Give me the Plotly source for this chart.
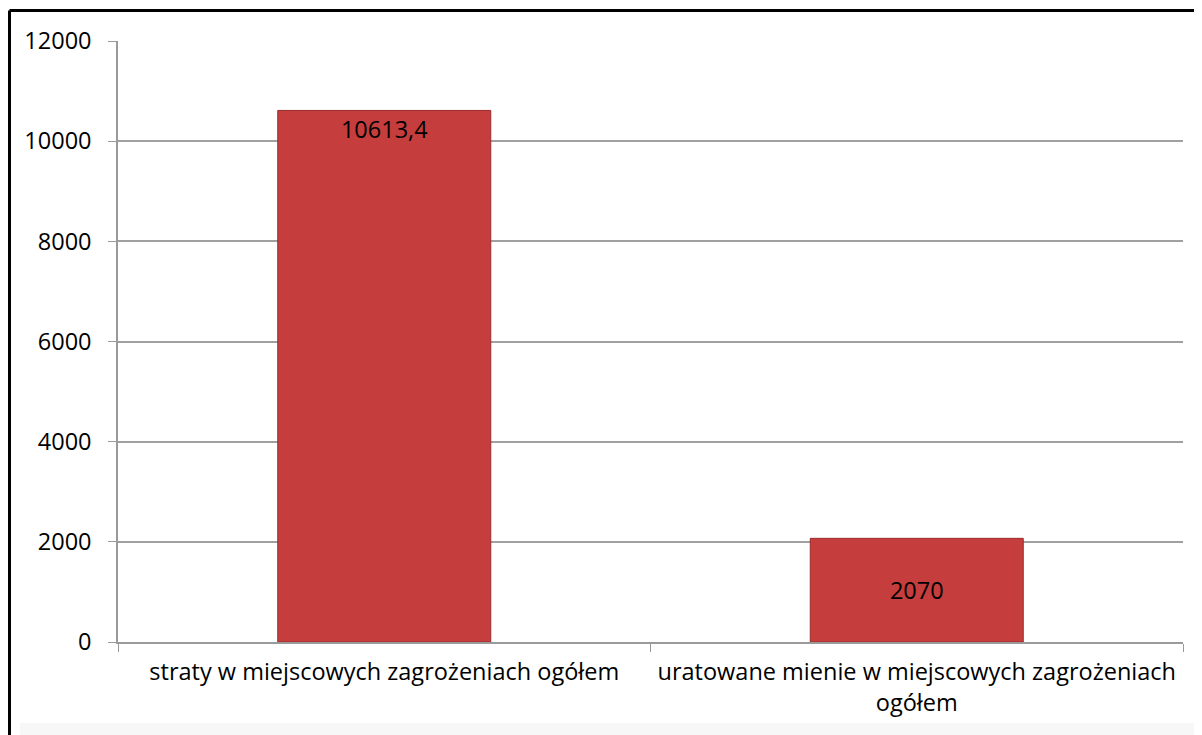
import plotly.graph_objects as go

categories = ["straty w miejscowych zagrożeniach ogółem",
              "uratowane mienie w miejscowych zagrożeniach<br>ogółem"]
values = [10613.4, 2070]
value_labels = ["10613,4", "2070"]
label_anchor = ["end", "middle"]

y_ticks = [0, 2000, 4000, 6000, 8000, 10000, 12000]

FONT = "Open Sans"
FS = 23.5

# page body has an 8px margin; figure is sized to fill the rest of the window
W, H = 1194, 727
ML, MR, MT, MB = 110, 19, 33, 93
PW, PH = W - ML - MR, H - MT - MB


def px_x(x):
    return (x - ML) / PW


def px_y(y):
    return (H - MB - y) / PH


fig = go.Figure()
for cat, v, lab, anc in zip(categories, values, value_labels, label_anchor):
    fig.add_trace(go.Bar(
        x=[cat], y=[v], text=[lab],
        textposition="inside", insidetextanchor=anc,
        textfont=dict(family=FONT, size=FS, color="#000000"),
        marker=dict(color="#c53d3c", line=dict(color="#9a2c2b", width=1)),
        width=0.4, showlegend=False, hoverinfo="x+y",
    ))

fig.update_layout(
    width=W, height=H,
    margin=dict(l=ML, r=MR, t=MT, b=MB),
    paper_bgcolor="white", plot_bgcolor="white",
    barmode="overlay",
    font=dict(family=FONT, size=FS, color="#000000"),
)
fig.update_xaxes(
    categoryorder="array", categoryarray=categories,
    showline=True, linecolor="#9a9a9a", linewidth=1.5,
    ticks="outside", tickson="boundaries", ticklen=8, tickcolor="#9a9a9a",
    ticklabelstandoff=8,
    showgrid=False, tickfont=dict(family=FONT, size=FS, color="#000000"),
)
fig.update_yaxes(
    range=[0, 12000], tickvals=y_ticks, ticktext=[str(t) for t in y_ticks],
    showline=True, linecolor="#9a9a9a", linewidth=1.5,
    ticks="outside", ticklen=8, tickcolor="#9a9a9a",
    ticklabelstandoff=12,
    showgrid=True, gridcolor="#a0a0a0", gridwidth=1.5,
    zeroline=False, tickfont=dict(family=FONT, size=FS, color="#000000"),
)

# faint band at the bottom of the chart area
fig.add_shape(type="rect", xref="paper", yref="paper", layer="below",
              x0=px_x(12), x1=px_x(W), y0=px_y(715), y1=px_y(H),
              fillcolor="#f7f7f7", line=dict(width=0))
# outer chart border (left, top)
fig.add_shape(type="line", xref="paper", yref="paper",
              x0=px_x(1.5), x1=px_x(W), y0=px_y(2.5), y1=px_y(2.5),
              line=dict(color="#000000", width=3))
fig.add_shape(type="line", xref="paper", yref="paper",
              x0=px_x(1.5), x1=px_x(1.5), y0=px_y(2.5), y1=px_y(H),
              line=dict(color="#000000", width=3))

fig.write_html("out.html")
